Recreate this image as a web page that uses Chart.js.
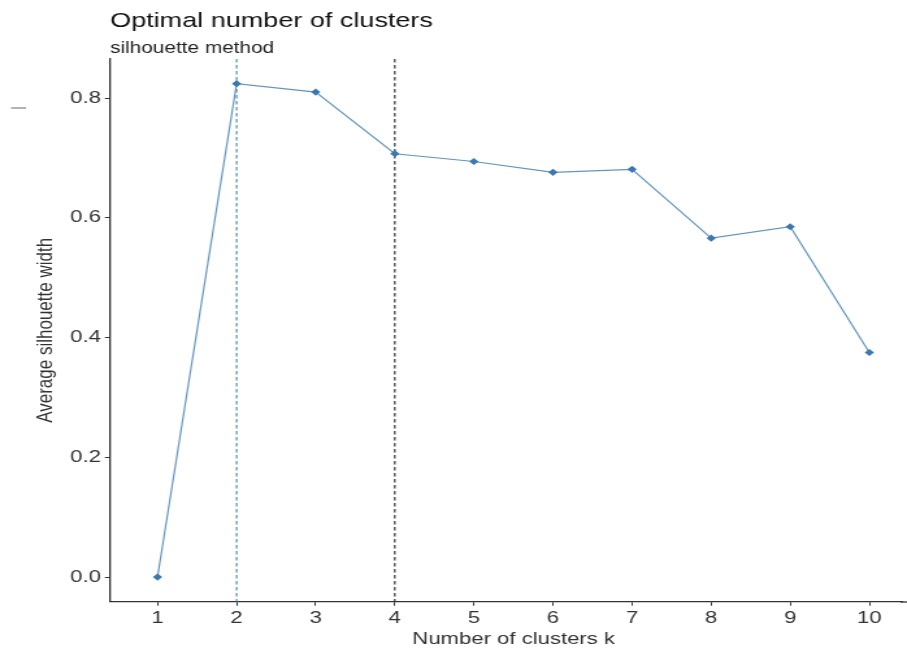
<!DOCTYPE html>
<html>
<head>
<meta charset="utf-8">
<script src="https://cdn.jsdelivr.net/npm/chart.js@4"></script>
<style>
  html, body { margin: 0; padding: 0; background: #fff; overflow: hidden; }
  #wrap { width: 698px; height: 650px; transform: scaleX(1.2994); transform-origin: 0 0; }
</style>
</head>
<body>
<div id="wrap"><canvas id="chart" width="698" height="650"></canvas></div>
<script>
// data
const clusters = [1, 2, 3, 4, 5, 6, 7, 8, 9, 10];
const silhouette = [0.0, 0.824, 0.810, 0.707, 0.694, 0.676, 0.681, 0.566, 0.585, 0.375];
const yTicks = [0.0, 0.2, 0.4, 0.6, 0.8];
const optimalK = 2;   // blue dashed line
const chosenK = 4;    // black dashed line

const FONT = "'Liberation Sans', Arial, sans-serif";
const TEXT = "#333333";

// titles, y axis title and the dashed reference lines
const decorations = {
    id: "decorations",
    beforeDatasetsDraw(chart) {
        const { ctx, chartArea, scales } = chart;
        const refLines = [
            { k: optimalK, color: "#4682B4" },
            { k: chosenK, color: "#222222" }
        ];
        ctx.save();
        ctx.lineWidth = 1.1;
        ctx.setLineDash([3.5, 2.5]);
        refLines.forEach(r => {
            const x = scales.x.getPixelForValue(r.k);
            ctx.strokeStyle = r.color;
            ctx.beginPath();
            ctx.moveTo(x, chartArea.top);
            ctx.lineTo(x, chartArea.bottom);
            ctx.stroke();
        });
        ctx.restore();
    },
    afterDraw(chart) {
        const { ctx, chartArea } = chart;
        ctx.save();
        // the panel runs on past the right edge of the picture
        const yAxis = Math.round(chartArea.bottom);
        ctx.strokeStyle = "#333";
        ctx.lineWidth = 1.3;
        ctx.beginPath();
        ctx.moveTo(chartArea.right - 1, yAxis);
        ctx.lineTo(chart.width, yAxis);
        ctx.stroke();

        ctx.fillStyle = "#111";
        ctx.textBaseline = "alphabetic";
        ctx.textAlign = "left";
        ctx.font = "20.8px " + FONT;
        ctx.fillText("Optimal number of clusters", chartArea.left, 27);
        ctx.fillStyle = "#222";
        ctx.font = "16px " + FONT;
        ctx.fillText("silhouette method", chartArea.left, 53);

        // x axis title, centred on the full (cropped) panel
        ctx.fillStyle = TEXT;
        ctx.font = "17px " + FONT;
        ctx.textAlign = "center";
        ctx.textBaseline = "middle";
        ctx.fillText("Number of clusters k", 395.3, 639);

        // y axis title
        ctx.translate(35.5, (chartArea.top + chartArea.bottom) / 2);
        ctx.rotate(-Math.PI / 2);
        ctx.fillText("Average silhouette width", 0, 0);
        ctx.restore();

        // small stray mark at the top left
        ctx.save();
        ctx.strokeStyle = "#666";
        ctx.lineWidth = 1;
        ctx.beginPath();
        ctx.moveTo(8.5, 108);
        ctx.lineTo(20, 108);
        ctx.stroke();
        ctx.restore();
    }
};

const ctx = document.getElementById("chart").getContext("2d");
new Chart(ctx, {
    type: "line",
    data: {
        datasets: [{
            data: clusters.map((k, i) => ({ x: k, y: silhouette[i] })),
            borderColor: "rgba(70, 130, 180, 0.85)",
            borderWidth: 1.2,
            pointStyle: "rectRot",
            pointRadius: 3.6,
            pointBackgroundColor: "#3b78b0",
            pointBorderColor: "#3b78b0",
            pointBorderWidth: 0,
            tension: 0
        }]
    },
    options: {
        responsive: false,
        animation: false,
        devicePixelRatio: 1,
        layout: { padding: { top: 59, left: 0, right: 0, bottom: 0 } },
        plugins: {
            legend: { display: false },
            tooltip: { enabled: false }
        },
        scales: {
            x: {
                type: "linear",
                min: 0.4,
                max: 10.41,
                afterBuildTicks: scale => { scale.ticks = clusters.map(v => ({ value: v })); },
                afterFit: scale => { scale.height = 48.3; },
                border: { display: true, color: "#333", width: 1.3 },
                grid: { display: true, drawOnChartArea: false, drawTicks: true, tickLength: 4, color: "#333" },
                ticks: {
                    color: TEXT,
                    font: { family: FONT, size: 17 },
                    padding: 2,
                    maxRotation: 0,
                    autoSkip: false,
                    callback: v => String(v)
                }
            },
            y: {
                min: -0.0412,
                max: 0.8652,
                afterBuildTicks: scale => { scale.ticks = yTicks.map(v => ({ value: v })); },
                afterFit: scale => { scale.width = 84.7; },
                border: { display: true, color: "#333", width: 1.3 },
                grid: { display: true, drawOnChartArea: false, drawTicks: true, tickLength: 4, color: "#333" },
                ticks: {
                    color: TEXT,
                    font: { family: FONT, size: 17 },
                    padding: 3,
                    autoSkip: false,
                    callback: v => v.toFixed(1)
                }
            }
        }
    },
    plugins: [decorations]
});
</script>
</body>
</html>
